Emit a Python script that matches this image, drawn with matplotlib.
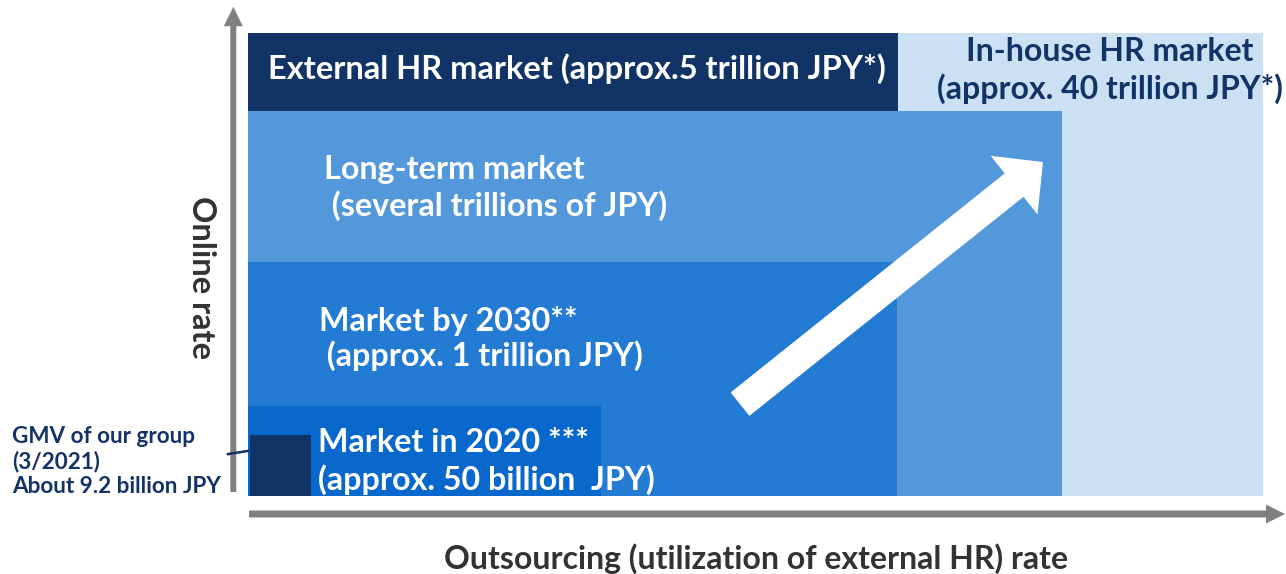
import matplotlib
matplotlib.use("Agg")
import matplotlib.pyplot as plt
from matplotlib.patches import FancyArrow

plt.rcParams['font.family'] = ['Lato', 'DejaVu Sans']

# ---- data (x = outsourcing rate share, y = online rate share, 0-100 scale) ----
segments = ["In-house HR market", "External HR market", "Long-term market",
            "Market by 2030", "Market in 2020", "GMV of our group"]
x_start = [0.0, 0.0, 0.0, 0.0, 0.0, 0.2]
x_end = [100.0, 64.0, 80.2, 63.9, 34.8, 6.2]
y_start = [0.0, 83.2, 0.0, 0.0, 0.0, 0.0]
y_end = [100.0, 100.0, 83.2, 50.5, 19.4, 13.2]
colors = ["#CCE0F4", "#123366", "#5398DB", "#237BD3", "#0868CC", "#123366"]

labels_white = {
    "External HR market": "External HR market (approx.5 trillion JPY*)",
    "Long-term market": "Long-term market\n (several trillions of JPY)",
    "Market by 2030": "Market by 2030**\n (approx. 1 trillion JPY)",
    "Market in 2020": "Market in 2020 ***\n(approx. 50 billion  JPY)",
}
inhouse_label = ["In-house HR market", "(approx. 40 trillion JPY*)"]
gmv_label = ["GMV of our group", "(3/2021)", "About 9.2 billion JPY"]
x_title = "Outsourcing (utilization of external HR) rate"
y_title = "Online rate"

W, H = 1286, 574
fig = plt.figure(figsize=(W / 100, H / 100), dpi=100)

# plot area axes (data space)
L, R, T, B = 248, 1263, 33, 496
ax = fig.add_axes([L / W, 1 - B / H, (R - L) / W, (B - T) / H])
ax.set_xlim(0, 100)
ax.set_ylim(0, 100)
ax.axis("off")
for xs, xe, ys, ye, c in zip(x_start, x_end, y_start, y_end, colors):
    ax.bar(xs, ye - ys, width=xe - xs, bottom=ys, align="edge", color=c,
           linewidth=0)

# overlay in pixel coordinates for decorations and text
ov = fig.add_axes([0, 0, 1, 1], facecolor="none")
ov.set_xlim(0, W)
ov.set_ylim(H, 0)
ov.axis("off")

gray = "#808080"
navy = "#123366"
dark = "#333333"

# axes arrows
ov.add_patch(FancyArrow(233.3, 492, 0, 6.7 - 492, width=6, head_width=19,
                        head_length=19.5, length_includes_head=True,
                        color=gray, linewidth=0))
ov.add_patch(FancyArrow(249, 514, 1285 - 249, 0, width=7, head_width=19,
                        head_length=19, length_includes_head=True,
                        color=gray, linewidth=0))

# big white growth arrow
ov.add_patch(FancyArrow(740, 404.2, 1043 - 740, 162 - 404.2, width=30,
                        head_width=75, head_length=37,
                        length_includes_head=True, color="white",
                        linewidth=0, zorder=5))

# leader line to GMV box
ov.plot([226.7, 249.5], [454.3, 450.7], color=navy, lw=1.8,
        solid_capstyle="butt")

fs = 23.2
ov.text(268, 79, labels_white["External HR market"], color="white",
        fontsize=23.5, fontweight="bold", ha="left", va="baseline")
lt = labels_white["Long-term market"].split("\n")
ov.text(324, 179, lt[0], color="white", fontsize=fs, fontweight="bold",
        ha="left", va="baseline")
ov.text(324, 216, lt[1], color="white", fontsize=fs, fontweight="bold",
        ha="left", va="baseline")
m30 = labels_white["Market by 2030"].split("\n")
ov.text(319, 330.7, m30[0], color="white", fontsize=fs, fontweight="bold",
        ha="left", va="baseline")
ov.text(319, 365.5, m30[1], color="white", fontsize=fs, fontweight="bold",
        ha="left", va="baseline")
m20 = labels_white["Market in 2020"].split("\n")
ov.text(318, 451.7, m20[0], color="white", fontsize=fs, fontweight="bold",
        ha="left", va="baseline", zorder=6)
ov.text(318, 490, m20[1], color="white", fontsize=fs, fontweight="bold",
        ha="left", va="baseline", zorder=6)

ov.text(1110, 61, inhouse_label[0], color=navy, fontsize=23,
        fontweight="bold", ha="center", va="baseline")
ov.text(1110, 99, inhouse_label[1], color=navy, fontsize=23,
        fontweight="bold", ha="center", va="baseline")

for t, yb in zip(gmv_label, [442.7, 468, 493]):
    ov.text(12, yb, t, color=navy, fontsize=16.2, fontweight="bold",
            ha="left", va="baseline")

ov.text(202, 277, y_title, color=dark, fontsize=23.5, fontweight="bold",
        rotation=-90, ha="center", va="center")
ov.text(755.5, 569, x_title, color=dark, fontsize=23, fontweight="bold",
        ha="center", va="baseline")

fig.savefig("out.png", dpi=100)
